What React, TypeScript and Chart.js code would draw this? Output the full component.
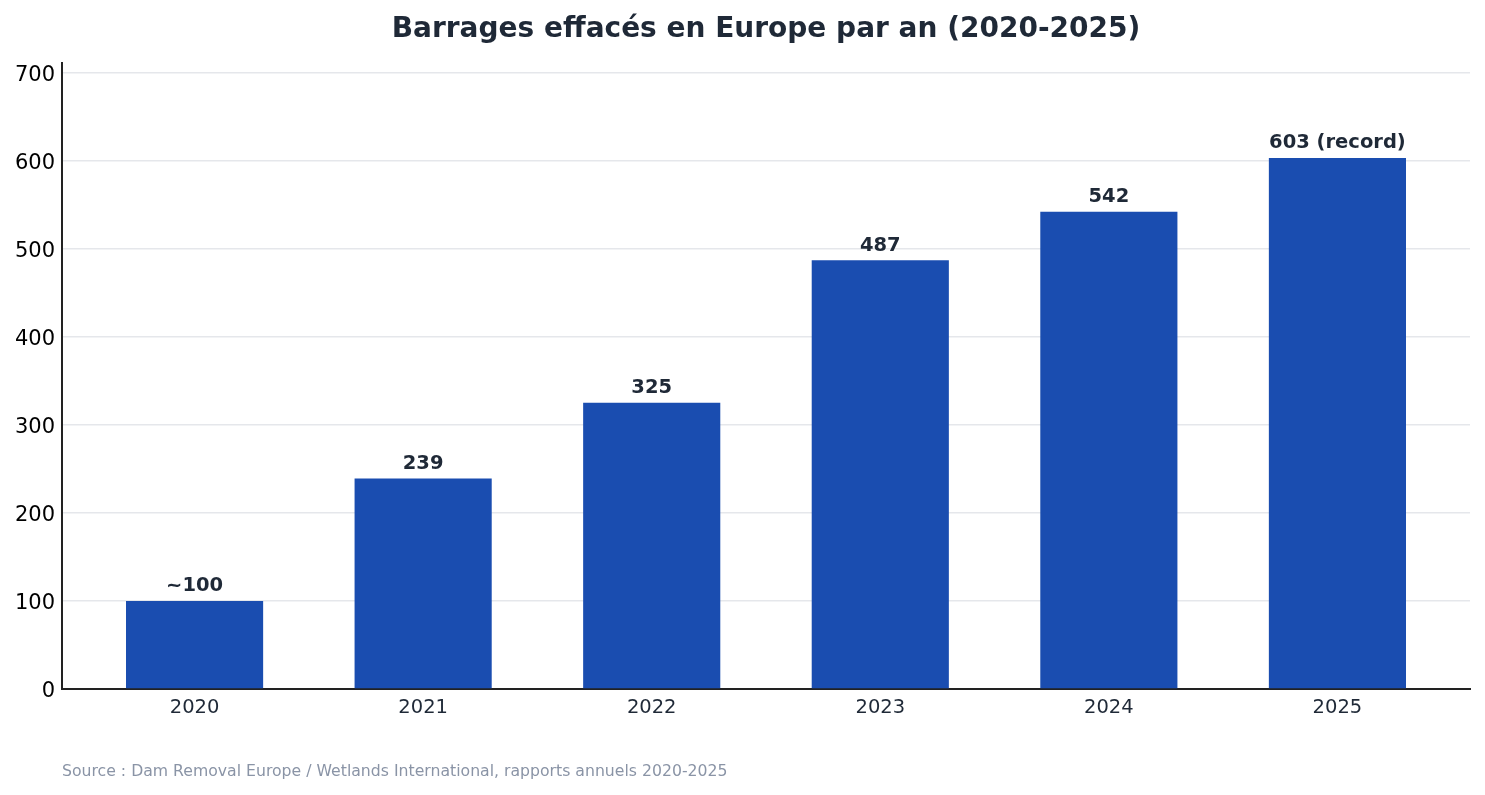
import React, { useEffect, useRef } from 'react';
import { Chart, registerables } from 'chart.js';

Chart.register(...registerables);

const years = ['2020', '2021', '2022', '2023', '2024', '2025'];
const removedDams = [100, 239, 325, 487, 542, 603];
const barLabels = ['~100', '239', '325', '487', '542', '603 (record)'];
const yTicks = [0, 100, 200, 300, 400, 500, 600, 700];

const TITLE = 'Barrages effacés en Europe par an (2020-2025)';
const SOURCE = 'Source : Dam Removal Europe / Wetlands International, rapports annuels 2020-2025';
const FONT = '"DejaVu Sans", sans-serif';

const overlayPlugin = {
  id: 'overlay',
  afterDatasetsDraw(chart: any) {
    const { ctx, chartArea } = chart;
    const meta = chart.getDatasetMeta(0);
    ctx.save();
    ctx.fillStyle = '#1f2937';
    ctx.font = `bold 19.5px ${FONT}`;
    ctx.textAlign = 'center';
    ctx.textBaseline = 'bottom';
    meta.data.forEach((bar: any, i: number) => {
      ctx.fillText(barLabels[i], bar.x, bar.y - 5);
    });
    // title centred over the plot area
    ctx.font = `bold 28px ${FONT}`;
    ctx.textBaseline = 'middle';
    ctx.fillText(TITLE, (chartArea.left + chartArea.right) / 2, 30);
    // source line
    ctx.font = `15.7px ${FONT}`;
    ctx.fillStyle = '#8a94a6';
    ctx.textAlign = 'left';
    ctx.fillText(SOURCE, chartArea.left, 772);
    ctx.restore();
  },
};

export default function App() {
  const chartRef = useRef<HTMLCanvasElement>(null);

  useEffect(() => {
    document.body.style.margin = '0';
    if (!chartRef.current) return;

    const config: any = {
      type: 'bar',
      data: {
        datasets: [{
          data: removedDams.map((v, i) => ({ x: i, y: v })),
          backgroundColor: '#1a4db0',
          categoryPercentage: 1,
          barPercentage: 0.6,
        }],
      },
      options: {
        responsive: false,
        animation: false,
        layout: { padding: { top: 63, right: 15, left: 0, bottom: 0 } },
        plugins: {
          legend: { display: false },
          tooltip: { enabled: false },
          title: { display: false },
        },
        scales: {
          x: {
            type: 'linear',
            min: -0.58,
            max: 5.58,
            offset: false,
            afterBuildTicks: (scale: any) => {
              scale.ticks = years.map((_, i) => ({ value: i }));
            },
            afterFit: (scale: any) => { scale.height = 106; },
            grid: { display: false, drawTicks: false },
            border: { display: true, color: '#222222', width: 2 },
            ticks: {
              padding: 7,
              color: '#1f2937',
              font: { family: FONT, size: 19.5 },
              callback: (v: any) => years[v] ?? '',
            },
          },
          y: {
            min: 0,
            max: 711,
            afterBuildTicks: (scale: any) => {
              scale.ticks = yTicks.map((v) => ({ value: v }));
            },
            afterFit: (scale: any) => { scale.width = 62; },
            grid: { color: '#e5e7eb', lineWidth: 1.5, drawTicks: false },
            border: { display: true, color: '#222222', width: 2 },
            ticks: {
              padding: 7,
              labelOffset: 3,
              color: '#000000',
              font: { family: FONT, size: 21 },
            },
          },
        },
      },
      plugins: [overlayPlugin],
    };

    const chartInstance = new Chart(chartRef.current, config);
    return () => {
      chartInstance.destroy();
    };
  }, []);

  return (
    <div style={{ width: 1485, height: 795, background: '#fff' }}>
      <canvas ref={chartRef} width={1485} height={795} style={{ display: 'block' }}></canvas>
    </div>
  );
}
